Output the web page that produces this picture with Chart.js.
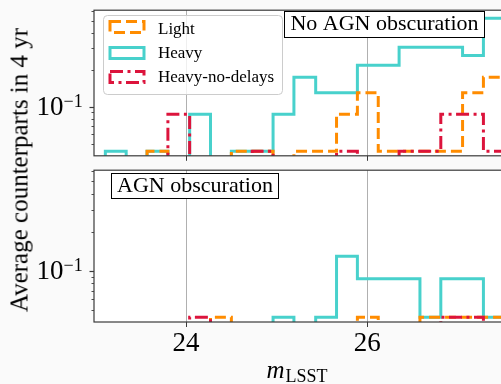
<!DOCTYPE html>
<html>
<head>
<meta charset="utf-8">
<script src="https://cdn.jsdelivr.net/npm/chart.js@4.4.1/dist/chart.umd.min.js"></script>
<style>
  html, body { margin: 0; padding: 0; background: #fafafa; overflow: hidden; }
  #wrap { position: relative; width: 501px; height: 384px; overflow: hidden; font-family: 'Liberation Serif', serif; }
  #topChart { position: absolute; left: 0; top: 0; }
  #bottomChart { position: absolute; left: 0; top: 160px; }
  #ylab {
    position: absolute; left: 19px; top: 170px;
    transform: translate(-50%, -50%) rotate(-90deg);
    font-size: 25px; line-height: 25px; white-space: nowrap; color: #000;
  }
</style>
</head>
<body>
<div id="wrap">
  <canvas id="topChart" width="520" height="166"></canvas>
  <canvas id="bottomChart" width="520" height="224"></canvas>
  <div id="ylab">Average counterparts in 4 yr</div>
</div>
<script>
// Bordes de los bins (m_LSST)
const binEdges = [23.11, 23.34, 23.57, 23.80, 24.04, 24.27, 24.50, 24.73, 24.96, 25.19,
                  25.43, 25.66, 25.89, 26.12, 26.35, 26.58, 26.81, 27.05, 27.28, 27.51];

// Panel superior: sin oscurecimiento AGN
const lightTop   = [0, 0, 0.0435, 0, 0, 0, 0.0435, 0.0435, 0, 0.0435, 0.0435, 0.087, 0.13, 0.0435, 0.0435, 0.0435, 0.0435, 0.13, 0.174];
const heavyTop   = [0.0435, 0, 0.0435, 0, 0.087, 0, 0.0435, 0.0435, 0.087, 0.174, 0.13, 0.13, 0.217, 0.217, 0.304, 0.304, 0.304, 0.261, 0.522];
const noDelayTop = [0, 0, 0, 0.087, 0, 0, 0, 0.0435, 0, 0, 0, 0.0435, 0, 0, 0.0435, 0.0435, 0.087, 0.087, 0.0435];

// Panel inferior: con oscurecimiento AGN
const lightBottom   = [0, 0, 0, 0, 0, 0.0435, 0, 0, 0, 0, 0, 0, 0.0435, 0, 0, 0.0435, 0.0435, 0.0435, 0.0435];
const heavyBottom   = [0, 0, 0, 0, 0, 0, 0, 0, 0.0435, 0, 0.0435, 0.13, 0.087, 0.087, 0.087, 0.0435, 0.087, 0.087, 0.0435];
const noDelayBottom = [0, 0, 0, 0, 0.0435, 0, 0, 0, 0, 0, 0, 0, 0, 0, 0, 0, 0.0435, 0.0435, 0];

const seriesNames = ['Light', 'Heavy', 'Heavy-no-delays'];
const seriesColors = ['#ff8c00', '#48d1cc', '#dc143c'];
const seriesDashes = [[11, 5], [], [13, 4.5, 3, 4.5]];
const seriesOrder = [1, 2, 0];

const xTicks = [24, 26];
const yTicks = [0.05, 0.06, 0.07, 0.08, 0.09, 0.1, 0.2, 0.3, 0.4, 0.5, 0.6];
const yMajor = [0.1];
const yMajorLabels = [['10', '\u22121']];

const X_MIN = 22.985, X_MAX = 27.518;
const Y_MIN = 0.040, Y_MAX = 0.608;
const FLOOR = 1e-3; // los ceros quedan por debajo del eje
const SERIF = "'Liberation Serif', serif";

function stepPoints(vals) {
    const pts = [{ x: binEdges[0], y: FLOOR }];
    vals.forEach((v, i) => pts.push({ x: binEdges[i], y: v > 0 ? v : FLOOR }));
    pts.push({ x: binEdges[vals.length], y: FLOOR });
    return pts;
}

const panelPlugin = {
    id: 'panel',
    beforeDraw(chart) {
        const { ctx, chartArea: a } = chart;
        ctx.save();
        ctx.fillStyle = '#ffffff';
        ctx.fillRect(a.left, a.top, a.right - a.left, a.bottom - a.top);
        ctx.restore();
    },
    afterDatasetsDraw(chart, args, opts) {
        const { ctx, chartArea: a } = chart;
        const y = chart.scales.y;
        ctx.save();
        // marco
        ctx.strokeStyle = '#3a3a3a';
        ctx.lineWidth = 1.2;
        ctx.setLineDash([]);
        ctx.strokeRect(a.left, a.top, a.right - a.left, a.bottom - a.top);
        // marcas del eje y
        yTicks.forEach(v => {
            const py = Math.round(y.getPixelForValue(v)) + 0.5;
            const len = yMajor.includes(v) ? 4.5 : 2.5;
            ctx.lineWidth = yMajor.includes(v) ? 1.2 : 0.9;
            ctx.beginPath();
            ctx.moveTo(a.left - len, py);
            ctx.lineTo(a.left, py);
            ctx.stroke();
        });
        // etiqueta 10^-1
        ctx.fillStyle = '#000';
        ctx.textBaseline = 'alphabetic';
        yMajor.forEach((v, i) => {
            const py = y.getPixelForValue(v);
            ctx.font = '27px ' + SERIF;
            ctx.textAlign = 'right';
            ctx.fillText(yMajorLabels[i][0], 63.5, py + 8.5);
            ctx.font = '18px ' + SERIF;
            ctx.textAlign = 'left';
            ctx.fillText(yMajorLabels[i][1], 63.5, py + 0.5);
        });
        // recuadro con texto
        if (opts.box) {
            const b = opts.box;
            ctx.fillStyle = '#fff';
            ctx.fillRect(b.x, b.y, b.w, b.h);
            ctx.strokeStyle = '#000';
            ctx.lineWidth = 1;
            ctx.strokeRect(b.x, b.y, b.w, b.h);
            ctx.fillStyle = '#000';
            ctx.font = '22px ' + SERIF;
            ctx.textAlign = 'center';
            ctx.fillText(b.text, b.x + b.w / 2, b.baseline);
        }
        // leyenda
        if (opts.legend) {
            ctx.fillStyle = 'rgba(255,255,255,0.8)';
            ctx.strokeStyle = '#cccccc';
            ctx.lineWidth = 1;
            ctx.beginPath();
            ctx.roundRect(103.5, 15.5, 179, 79, 4);
            ctx.fill();
            ctx.stroke();
            const tops = [21.5, 47.5, 71.5];
            const bases = [33.5, 57.7, 81.9];
            seriesNames.forEach((name, i) => {
                ctx.strokeStyle = seriesColors[i];
                ctx.lineWidth = 3;
                ctx.lineCap = 'butt';
                ctx.setLineDash(seriesDashes[i]);
                ctx.strokeRect(110, tops[i], 34, 11);
                ctx.setLineDash([]);
                ctx.fillStyle = '#000';
                ctx.font = '17px ' + SERIF;
                ctx.textAlign = 'left';
                ctx.fillText(name, 158, bases[i]);
            });
        }
        // título del eje x
        if (opts.xTitle) {
            ctx.fillStyle = '#000';
            ctx.textAlign = 'left';
            ctx.font = 'italic 25px ' + SERIF;
            const wm = ctx.measureText('m').width;
            ctx.font = '18px ' + SERIF;
            const ws = ctx.measureText('LSST').width;
            const x0 = 297 - (wm + ws + 1) / 2;
            ctx.font = 'italic 25px ' + SERIF;
            ctx.fillText('m', x0, 218);
            ctx.font = '18px ' + SERIF;
            ctx.fillText('LSST', x0 + wm + 1, 221.5);
        }
        ctx.restore();
    }
};

function makeChart(id, light, heavy, noDelay, cfg) {
    const all = [light, heavy, noDelay];
    return new Chart(document.getElementById(id), {
        type: 'line',
        data: {
            datasets: all.map((vals, i) => ({
                label: seriesNames[i],
                data: stepPoints(vals),
                borderColor: seriesColors[i],
                borderDash: seriesDashes[i],
                borderWidth: 3,
                borderCapStyle: 'butt',
                borderJoinStyle: 'miter',
                stepped: 'before',
                pointRadius: 0,
                fill: false,
                clip: 0,
                order: seriesOrder[i]
            }))
        },
        options: {
            responsive: false,
            animation: false,
            events: [],
            layout: { padding: { top: cfg.padTop, right: 15, left: 0, bottom: 0 } },
            plugins: {
                legend: { display: false },
                tooltip: { enabled: false },
                panel: { box: cfg.box, legend: cfg.legend, xTitle: cfg.xTitle }
            },
            scales: {
                x: {
                    type: 'linear', min: X_MIN, max: X_MAX,
                    afterBuildTicks: s => { s.ticks = xTicks.map(v => ({ value: v })); },
                    afterFit: s => { s.height = cfg.xHeight; },
                    grid: { color: '#b0b0b0', lineWidth: 1, tickColor: '#3a3a3a', tickLength: 5, drawTicks: true },
                    border: { display: false },
                    ticks: {
                        display: cfg.xLabels, color: '#000', padding: 1,
                        font: { family: SERIF, size: 27 }, maxRotation: 0, autoSkip: false
                    }
                },
                y: {
                    type: 'logarithmic', min: Y_MIN, max: Y_MAX,
                    afterBuildTicks: s => { s.ticks = yTicks.map(v => ({ value: v })); },
                    afterFit: s => { s.width = 94; },
                    grid: {
                        color: c => (c.tick && yMajor.includes(c.tick.value)) ? '#dedede' : 'rgba(0,0,0,0)',
                        lineWidth: 1.5, drawTicks: false
                    },
                    border: { display: false },
                    ticks: { callback: () => '' }
                }
            }
        },
        plugins: [panelPlugin]
    });
}

makeChart('topChart', lightTop, heavyTop, noDelayTop, {
    padTop: 6, xHeight: 6, xLabels: false, legend: true, xTitle: false,
    box: { x: 284.5, y: 11.5, w: 200, h: 26, text: 'No AGN obscuration', baseline: 30 }
});
makeChart('bottomChart', lightBottom, heavyBottom, noDelayBottom, {
    padTop: 7, xHeight: 62, xLabels: true, legend: false, xTitle: true,
    box: { x: 111.5, y: 13.5, w: 167, h: 25, text: 'AGN obscuration', baseline: 31.7 }
});
</script>
</body>
</html>
